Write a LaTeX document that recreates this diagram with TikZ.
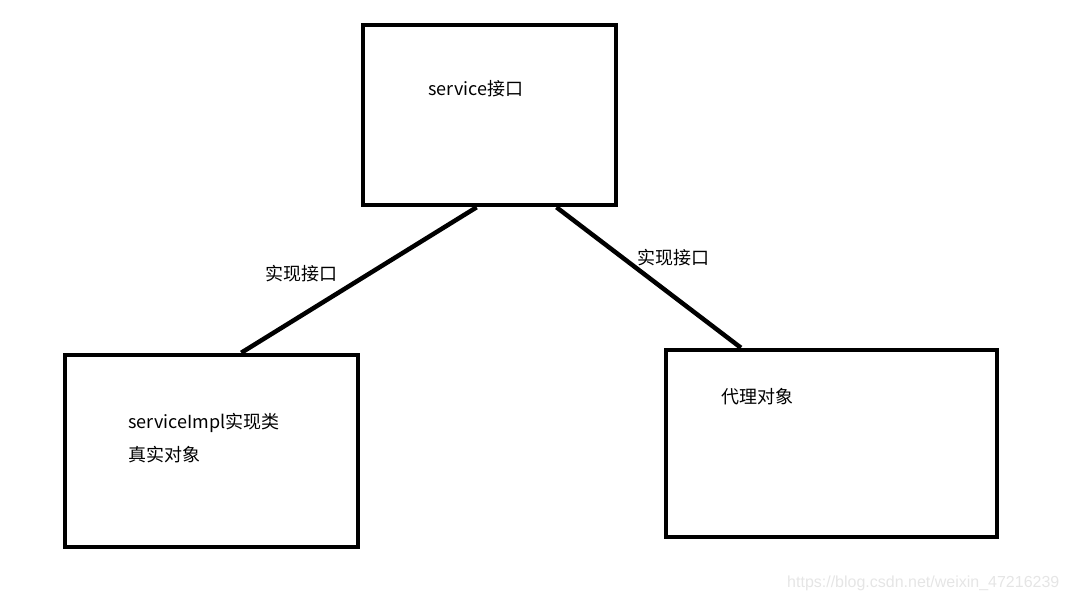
\documentclass[tikz,border=0pt]{standalone}
\usepackage{fontspec}
\setmainfont{Noto Sans CJK SC}
\newfontfamily\markfont{Liberation Sans}
\usetikzlibrary{calc}
\tikzset{
	box/.style={draw,line width=4.5pt,rectangle,inner sep=0pt},
	txt/.style={anchor=west,inner sep=0pt,font=\fontsize{18}{21}\selectfont},
	link/.style={line width=4.5pt}
}
\begin{document}
\begin{tikzpicture}[x=1pt,y=-1pt]
	\useasboundingbox (0,0) rectangle (1068,603);
	% boxes
	\node[box,minimum width=253pt,minimum height=180pt] (iface) at (489.5,115) {};
	\node[box,minimum width=293pt,minimum height=192pt] (impl) at (211.5,451) {};
	\node[box,minimum width=331pt,minimum height=187pt] (proxy) at (831.5,443.5) {};
	% texts
	\node[txt] (ifacetxt) at (428,89) {service接口};
	\node[txt] (impltxt) at (128,423) {serviceImpl实现类};
	\node[txt] (realtxt) at (128,455) {真实对象};
	\node[txt] (proxytxt) at (721,397) {代理对象};
	\node[txt] (lblleft) at (265,274) {实现接口};
	\node[txt] (lblright) at (637,258) {实现接口};
	% connectors
	\draw[link] ($(iface.south west)!0.45!(iface.south east)$) -- ($(impl.north west)!0.60!(impl.north east)$);
	\draw[link] ($(iface.south west)!0.76!(iface.south east)$) -- ($(proxy.north west)!0.23!(proxy.north east)$);
	% watermark
	\node[anchor=west,inner sep=0pt,text=black!10,font=\markfont\fontsize{16}{18}\selectfont] (mark) at (787,583) {https://blog.csdn.net/weixin\_47216239};
\end{tikzpicture}
\end{document}
